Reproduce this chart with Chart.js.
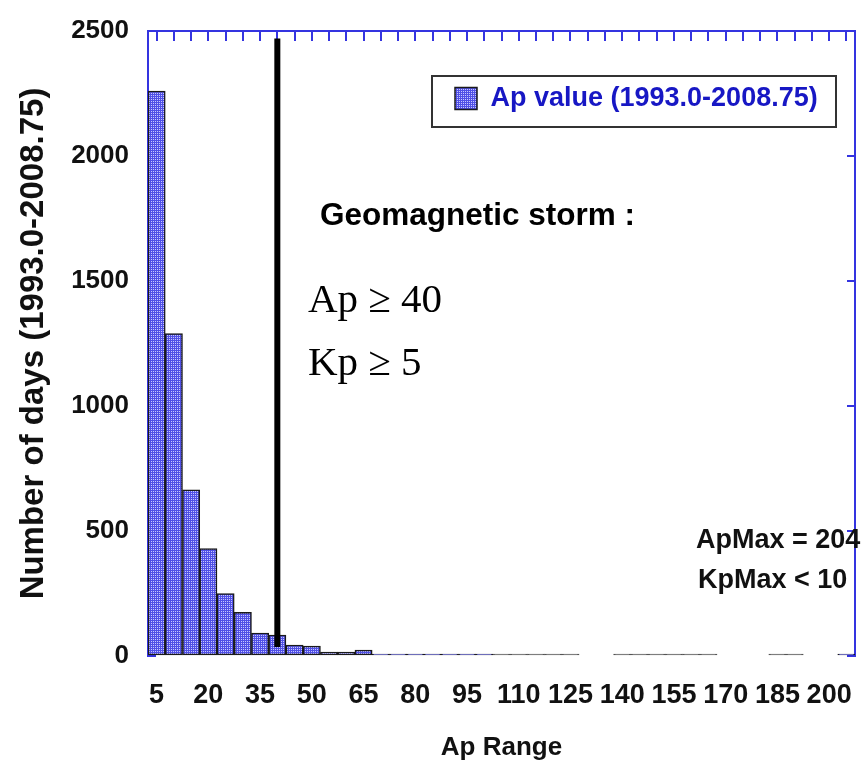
<!DOCTYPE html>
<html>
<head>
<meta charset="utf-8">
<title>Ap range histogram</title>
<script src="https://cdn.jsdelivr.net/npm/chart.js@4.4.1/dist/chart.umd.min.js"></script>
<style>
    body { margin: 0; background: #fff; }
    canvas { display: block; }
</style>
</head>
<body>
<canvas id="apChart" width="865" height="763"></canvas>
<script>
// Ap bins, centre of each 5-wide bin
const apBins = [
    "5", "10", "15", "20", "25", "30", "35", "40", "45", "50",
    "55", "60", "65", "70", "75", "80", "85", "90", "95", "100",
    "105", "110", "115", "120", "125", "130", "135", "140", "145", "150",
    "155", "160", "165", "170", "175", "180", "185", "190", "195", "200",
    "205",
];

// days per bin, 1993.0-2008.75 (null = no bin drawn)
const dayCounts = [
    2260, 1290, 665, 430, 250, 175, 92, 84, 44, 40,
    16, 16, 24, 8, 6, 5, 4, 4, 3, 3,
    0, 0, 0, 0, 0, null, null, 0, 0, 0,
    0, 0, 0, null, null, null, 0, 0, null, null,
    1,
];

// labelled bins on the bottom axis
const apTickLabels = ["5", "20", "35", "50", "65", "80", "95", "110", "125", "140", "155", "170", "185", "200"];
const dayTicks = [0, 500, 1000, 1500, 2000, 2500];

// storm threshold and the extent of its marker line
const stormAp = "40";
const stormKp = "5";
const stormLine = [36, 2470];

const axisBlue = "#3434e0";
const sans = "'Liberation Sans', Arial, sans-serif";
const serif = "'Liberation Serif', 'Times New Roman', serif";

const ctx = document.getElementById("apChart").getContext("2d");

// dithered blue fill for the bars
function dotPattern() {
    const c = document.createElement("canvas");
    c.width = 2;
    c.height = 2;
    const g = c.getContext("2d");
    g.fillStyle = "#5050e6";
    g.fillRect(0, 0, 2, 2);
    g.fillStyle = "#c8c8ff";
    g.fillRect(1, 1, 1, 1);
    return ctx.createPattern(c, "repeat");
}
const dots = dotPattern();

const setTicks = (scale) => {
    scale.ticks = dayTicks.map((v) => ({ value: v }));
};

// labels may not push the plot area around
const noPad = (s) => {
    s.paddingTop = 0;
    s.paddingBottom = 0;
    s.paddingLeft = 0;
    s.paddingRight = 0;
};

// moves the legend into the top right corner, frames it and writes the notes
const notes = {
    id: "notes",
    afterLayout(chart) {
        const a = chart.chartArea;
        const lg = chart.legend;
        const w = lg.width;
        const h = lg.height;
        lg.left = a.right - 410;
        lg.top = a.top + 44;
        lg.right = lg.left + w;
        lg.bottom = lg.top + h;
    },
    afterDraw(chart) {
        const c = chart.ctx;
        const a = chart.chartArea;
        c.save();
        c.strokeStyle = "#333";
        c.lineWidth = 2;
        c.strokeRect(a.left + 284, a.top + 45, 404, 51);

        c.fillStyle = "#000";
        c.textAlign = "left";
        c.textBaseline = "alphabetic";
        c.font = "bold 31.5px " + sans;
        c.fillText("Geomagnetic storm :", a.left + 172, a.top + 194);

        c.font = "41px " + serif;
        c.fillText("Ap \u2265 " + stormAp, a.left + 160, a.top + 281);
        c.fillText("Kp \u2265 " + stormKp, a.left + 160, a.top + 344);

        c.fillStyle = "#111";
        c.font = "bold 27px " + sans;
        c.fillText("ApMax = 204", a.left + 548, a.top + 517);
        c.fillText("KpMax < 10", a.left + 550, a.top + 557);
        c.restore();
    },
};

Chart.defaults.color = "#111";

const chart = new Chart(ctx, {
    type: "bar",
    data: {
        labels: apBins,
        datasets: [
            {
                type: "bar",
                label: "Ap value (1993.0-2008.75)",
                data: dayCounts,
                backgroundColor: (c) => (c.raw === 0 ? "#555" : dots),
                borderColor: (c) => (c.raw === 0 ? "#555" : "#1a1a1a"),
                borderWidth: 1.5,
                borderSkipped: false,
                minBarLength: 2,
                categoryPercentage: 1,
                barPercentage: 1,
                order: 1,
            },
            {
                type: "line",
                label: "storm",
                data: [
                    { x: stormAp, y: stormLine[0] },
                    { x: stormAp, y: stormLine[1] },
                ],
                borderColor: "#000",
                borderWidth: 6,
                pointRadius: 0,
                order: 0,
            },
        ],
    },
    options: {
        responsive: false,
        animation: false,
        layout: { padding: 0 },
        plugins: {
            tooltip: { enabled: false },
            legend: {
                position: "chartArea",
                align: "start",
                labels: {
                    boxWidth: 22,
                    boxHeight: 22,
                    padding: 10,
                    color: "#1717c4",
                    font: { family: sans, size: 27, weight: "bold" },
                    filter: (item) => item.datasetIndex === 0,
                },
            },
        },
        scales: {
            x: {
                type: "category",
                position: "bottom",
                offset: true,
                grid: { display: false, drawTicks: false },
                border: { display: false },
                ticks: {
                    autoSkip: false,
                    maxRotation: 0,
                    padding: 23,
                    font: { family: sans, size: 27, weight: "bold" },
                    callback(v) {
                        const lab = this.getLabelForValue(v);
                        return apTickLabels.includes(lab) ? lab : "";
                    },
                },
                title: {
                    display: true,
                    text: "Ap Range",
                    font: { family: sans, size: 26, weight: "bold" },
                    padding: { top: 0, bottom: 0 },
                },
                afterFit(s) {
                    s.height = 107;
                    noPad(s);
                },
            },
            x2: {
                type: "category",
                position: "top",
                offset: true,
                grid: {
                    offset: false,
                    drawOnChartArea: false,
                    tickLength: -10,
                    color: axisBlue,
                    lineWidth: 2,
                },
                border: { color: axisBlue, width: 2 },
                ticks: { display: false },
                afterFit(s) {
                    s.height = 31;
                    noPad(s);
                },
            },
            y: {
                position: "left",
                min: 0,
                max: 2500,
                z: 1,
                afterBuildTicks: setTicks,
                grid: {
                    drawOnChartArea: false,
                    tickLength: -8,
                    color: axisBlue,
                    lineWidth: 2,
                },
                border: { color: axisBlue, width: 2 },
                ticks: {
                    padding: 27,
                    font: { family: sans, size: 26, weight: "bold" },
                    callback: (v) => String(v),
                },
                title: {
                    display: true,
                    text: "Number of days (1993.0-2008.75)",
                    font: { family: sans, size: 33, weight: "bold" },
                    padding: { top: 14, bottom: 0 },
                },
                afterFit(s) {
                    s.width = 148;
                    noPad(s);
                },
            },
            y2: {
                position: "right",
                min: 0,
                max: 2500,
                afterBuildTicks: setTicks,
                grid: {
                    drawOnChartArea: false,
                    tickLength: -8,
                    color: axisBlue,
                    lineWidth: 2,
                },
                border: { color: axisBlue, width: 2 },
                ticks: { display: false },
                afterFit(s) {
                    s.width = 10;
                    noPad(s);
                },
            },
        },
    },
    plugins: [notes],
});
</script>
</body>
</html>
